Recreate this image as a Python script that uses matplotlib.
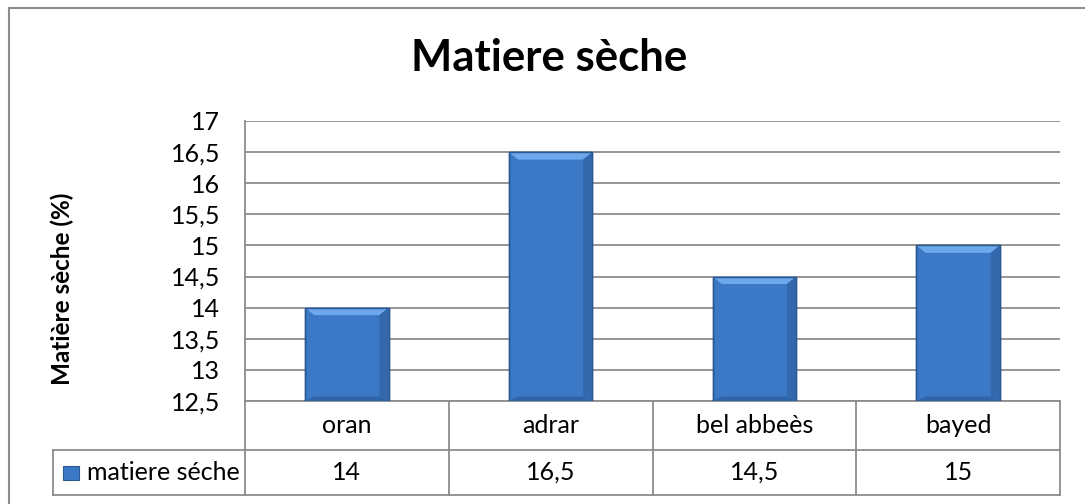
import matplotlib
matplotlib.use('Agg')
from matplotlib import pyplot as plt
from matplotlib.patches import Polygon, Rectangle

categories = ['oran', 'adrar', 'bel abbeès', 'bayed']
values = [14, 16.5, 14.5, 15]
series_name = 'matiere séche'
yticks = [12.5, 13, 13.5, 14, 14.5, 15, 15.5, 16, 16.5, 17]

plt.rcParams['font.family'] = ['Lato', 'DejaVu Sans']

W, H = 1085, 504
fig = plt.figure(figsize=(W / 100, H / 100), dpi=100)
# plot area: x 245..1060 px, y 121..401 px
ax = fig.add_axes([245 / W, 1 - 401 / H, 815 / W, 280 / H])

grey = '#8c8c8c'
bar_face = '#3b78c6'
bar_edge = '#2a5891'


def fmt(v):
    s = ('%g' % v)
    return s.replace('.', ',')


x = list(range(len(categories)))
bars = ax.bar(x, [v - 12.5 for v in values], bottom=12.5, width=0.41,
              color=bar_face, edgecolor=bar_edge, linewidth=1.0, zorder=3)

# bevel highlights on each bar
for b in bars:
    x0 = b.get_x()
    w = b.get_width()
    top = b.get_y() + b.get_height()
    bot = b.get_y()
    dx = 0.045
    dy = 0.12
    ax.add_patch(Polygon([[x0, top], [x0 + w, top], [x0 + w - dx, top - dy], [x0 + dx, top - dy]],
                         closed=True, facecolor='#6ea8ec', edgecolor='none', zorder=4))
    ax.add_patch(Polygon([[x0, bot], [x0 + w, bot], [x0 + w - dx, bot + dy * 0.6], [x0 + dx, bot + dy * 0.6]],
                         closed=True, facecolor='#2f64a8', edgecolor='none', zorder=4))
    ax.add_patch(Polygon([[x0 + w, top], [x0 + w, bot], [x0 + w - dx, bot + dy * 0.6], [x0 + w - dx, top - dy]],
                         closed=True, facecolor='#3468ad', edgecolor='none', zorder=4))
    ax.add_patch(Rectangle((x0, bot), w, top - bot, facecolor='none',
                           edgecolor=bar_edge, linewidth=1.0, zorder=5))

ax.set_xlim(-0.5, len(categories) - 0.5)
ax.set_ylim(12.5, 17)
ax.set_yticks(yticks)
ax.set_yticklabels([fmt(t) for t in yticks], fontsize=18)
ax.yaxis.grid(True, color=grey, linewidth=1.3, zorder=0)
ax.set_axisbelow(True)
ax.tick_params(axis='y', length=0, pad=18)
ax.set_xticks([])
for s in ['top', 'right', 'bottom']:
    ax.spines[s].set_visible(False)
ax.spines['left'].set_color(grey)
ax.spines['left'].set_linewidth(1.3)

fig.text(62 / W, 1 - 289 / H, 'Matière sèche (%)', rotation=90, ha='center',
         va='center', fontsize=17.5, fontweight='bold')
fig.text(549 / W, 1 - 58 / H, 'Matiere sèche', ha='center', va='center',
         fontsize=31.5, fontweight='bold')

# data table below the plot
n = len(categories)
row1 = -49 / 280
row2 = -94 / 280
leg_left = (53 - 245) / 815
tr = ax.transAxes
lkw = dict(color=grey, linewidth=1.3, transform=tr, clip_on=False)
ax.plot([0, 1], [0, 0], **lkw)
ax.plot([leg_left, 1], [row1, row1], **lkw)
ax.plot([leg_left, 1], [row2, row2], **lkw)
ax.plot([leg_left, leg_left], [row1, row2], **lkw)
for i in range(n + 1):
    ax.plot([i / n, i / n], [0, row2], **lkw)
for i, (c, v) in enumerate(zip(categories, values)):
    cx = (i + 0.5) / n
    ax.text(cx, row1 / 2, c, ha='center', va='center', fontsize=18, transform=tr)
    ax.text(cx, (row1 + row2) / 2, fmt(v), ha='center', va='center', fontsize=18, transform=tr)

# legend key in the table
ym = (row1 + row2) / 2
ax.add_patch(Rectangle(((63 - 245) / 815, ym - 7 / 280), 16 / 815, 14 / 280,
                       transform=tr, clip_on=False, facecolor=bar_face,
                       edgecolor=bar_edge, linewidth=0.8))
ax.text((87 - 245) / 815, ym, series_name, ha='left', va='center',
        fontsize=18, transform=tr)

# outer chart border (right and bottom edges fall outside the image)
fig.add_artist(Rectangle((9 / W, -10 / H), 1090 / W, 506 / H,
                         transform=fig.transFigure, fill=False,
                         edgecolor=grey, linewidth=1.5))

fig.savefig('out.png', dpi=100)
